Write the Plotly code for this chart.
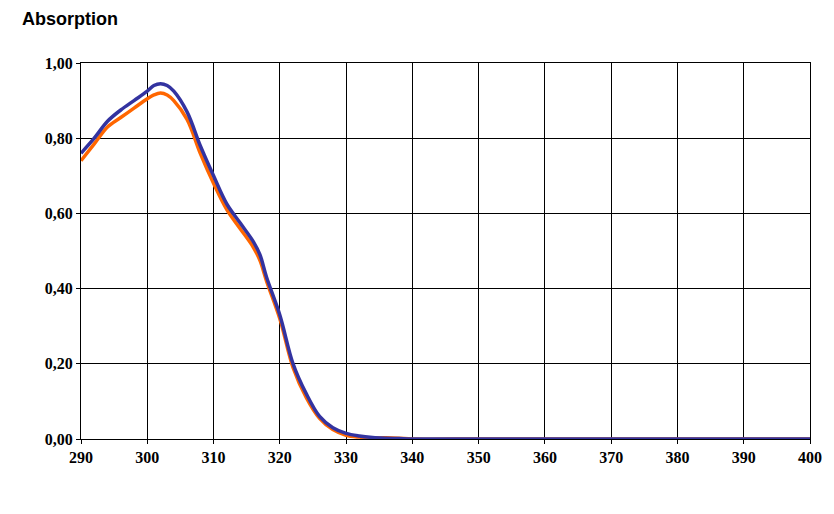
import plotly.graph_objects as go

wavelength = [290, 292, 294, 296, 298, 300, 301, 302, 303, 304, 306, 308, 310, 312, 314, 316, 317,
              318, 320, 322, 324, 326, 328, 330, 332, 334, 336, 338, 340, 350, 360, 370, 380, 390, 400]
blue = [0.76, 0.80, 0.845, 0.875, 0.90, 0.925, 0.94, 0.945, 0.94, 0.925, 0.87, 0.78, 0.70, 0.625,
        0.575, 0.525, 0.49, 0.43, 0.33, 0.20, 0.12, 0.06, 0.03, 0.015, 0.008, 0.004, 0.002, 0.001,
        0, 0, 0, 0, 0, 0, 0]
orange = [0.74, 0.785, 0.83, 0.855, 0.88, 0.905, 0.915, 0.92, 0.915, 0.90, 0.85, 0.76, 0.68, 0.61,
          0.56, 0.51, 0.475, 0.42, 0.32, 0.19, 0.11, 0.055, 0.025, 0.01, 0.005, 0.003, 0.003, 0.002,
          0, 0, 0, 0, 0, 0, 0]

fig = go.Figure()
fig.add_trace(go.Scatter(x=wavelength, y=orange, mode="lines", line=dict(color="#FF6600", width=3.5, shape="spline")))
fig.add_trace(go.Scatter(x=wavelength, y=blue, mode="lines", line=dict(color="#3333A0", width=3.5, shape="spline")))

axis_font = dict(family="Liberation Serif", size=16, color="black")
fig.update_layout(
    width=834, height=514, showlegend=False,
    paper_bgcolor="white", plot_bgcolor="white",
    margin=dict(l=73, r=32, t=55, b=83),
    xaxis=dict(range=[290, 400], dtick=10, showgrid=True, gridcolor="black", gridwidth=1,
               showline=True, linecolor="black", mirror=True, zeroline=False,
               tickfont=axis_font, ticks="outside", ticklen=4, tickcolor="black",
               tickprefix="<b>", ticksuffix="</b>"),
    yaxis=dict(range=[0, 1], dtick=0.2, tickformat=".2f",
               showgrid=True, gridcolor="black", gridwidth=1,
               showline=True, linecolor="black", mirror=True, zeroline=False,
               tickfont=axis_font, ticks="outside", ticklen=4, tickcolor="black",
               tickprefix="<b>", ticksuffix="</b>"),
    separators=", ",
    annotations=[dict(text="<b>Absorption</b>", xref="paper", yref="paper", x=-0.084, y=1.085,
                      xanchor="left", yanchor="bottom", showarrow=False,
                      font=dict(family="Liberation Sans", size=18, color="black"))],
)
fig.write_html("out.html")
